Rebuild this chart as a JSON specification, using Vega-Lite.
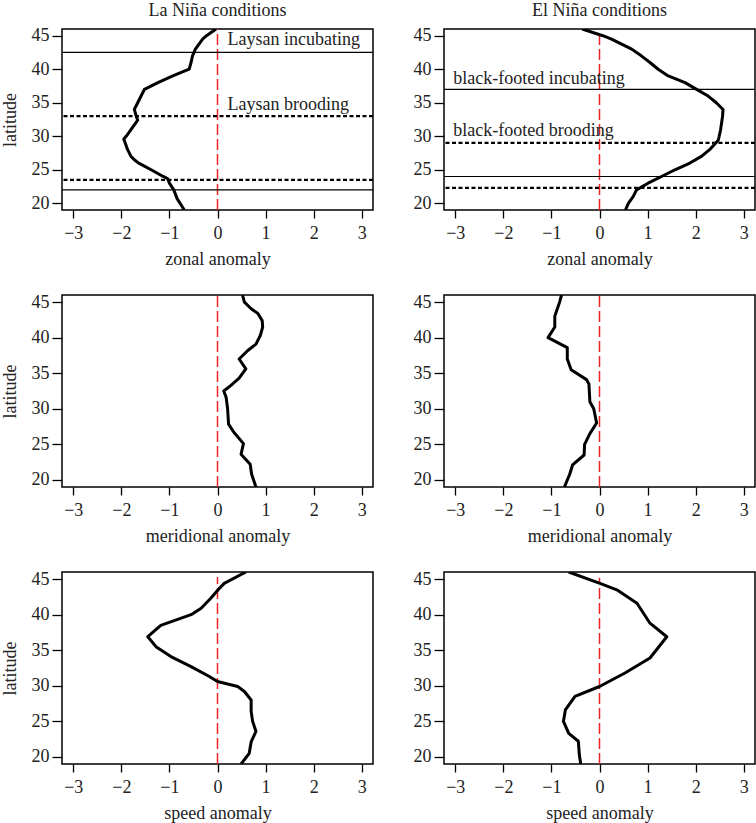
{
  "$schema": "https://vega.github.io/schema/vega-lite/v6.json",
  "padding": {"left": 0, "top": 0, "right": 0, "bottom": 0},
  "background": "white",
  "bounds": "flush",
  "columns": 2,
  "spacing": {"row": 85, "column": 71},
  "datasets": {
    "curves": [
      {"p":"zl","lat":46,"v":-0.03},{"p":"zl","lat":45,"v":-0.23},{"p":"zl","lat":44.5,"v":-0.31},{"p":"zl","lat":43,"v":-0.46},{"p":"zl","lat":42,"v":-0.52},{"p":"zl","lat":41,"v":-0.55},{"p":"zl","lat":40,"v":-0.59},{"p":"zl","lat":39,"v":-0.93},{"p":"zl","lat":38,"v":-1.24},{"p":"zl","lat":37,"v":-1.52},{"p":"zl","lat":36,"v":-1.59},{"p":"zl","lat":35,"v":-1.66},{"p":"zl","lat":34,"v":-1.73},{"p":"zl","lat":33,"v":-1.69},{"p":"zl","lat":32.4,"v":-1.66},{"p":"zl","lat":32,"v":-1.7},{"p":"zl","lat":31,"v":-1.8},{"p":"zl","lat":30,"v":-1.9},{"p":"zl","lat":29.6,"v":-1.95},{"p":"zl","lat":29,"v":-1.92},{"p":"zl","lat":28,"v":-1.87},{"p":"zl","lat":27,"v":-1.8},{"p":"zl","lat":26.5,"v":-1.73},{"p":"zl","lat":26,"v":-1.64},{"p":"zl","lat":25,"v":-1.38},{"p":"zl","lat":24,"v":-1.13},{"p":"zl","lat":23.7,"v":-1.04},{"p":"zl","lat":23,"v":-1.0},{"p":"zl","lat":22,"v":-0.91},{"p":"zl","lat":20.7,"v":-0.84},{"p":"zl","lat":19,"v":-0.69},
      {"p":"ze","lat":46,"v":-0.36},{"p":"ze","lat":45,"v":0.07},{"p":"ze","lat":44.5,"v":0.25},{"p":"ze","lat":43,"v":0.67},{"p":"ze","lat":42,"v":0.87},{"p":"ze","lat":41,"v":1.05},{"p":"ze","lat":40,"v":1.22},{"p":"ze","lat":39,"v":1.43},{"p":"ze","lat":38,"v":1.78},{"p":"ze","lat":37,"v":2.02},{"p":"ze","lat":36,"v":2.26},{"p":"ze","lat":35,"v":2.43},{"p":"ze","lat":34,"v":2.57},{"p":"ze","lat":33,"v":2.56},{"p":"ze","lat":32,"v":2.54},{"p":"ze","lat":31,"v":2.52},{"p":"ze","lat":30,"v":2.49},{"p":"ze","lat":29.4,"v":2.47},{"p":"ze","lat":28,"v":2.29},{"p":"ze","lat":27,"v":2.12},{"p":"ze","lat":26,"v":1.88},{"p":"ze","lat":25,"v":1.57},{"p":"ze","lat":24,"v":1.29},{"p":"ze","lat":23,"v":1.01},{"p":"ze","lat":22,"v":0.77},{"p":"ze","lat":21,"v":0.7},{"p":"ze","lat":20,"v":0.6},{"p":"ze","lat":19,"v":0.54},
      {"p":"ml","lat":46,"v":0.52},{"p":"ml","lat":45,"v":0.56},{"p":"ml","lat":44.06,"v":0.7},{"p":"ml","lat":43.4,"v":0.84},{"p":"ml","lat":42.4,"v":0.93},{"p":"ml","lat":41.5,"v":0.94},{"p":"ml","lat":40.3,"v":0.89},{"p":"ml","lat":39.1,"v":0.8},{"p":"ml","lat":38.2,"v":0.63},{"p":"ml","lat":37,"v":0.45},{"p":"ml","lat":35.6,"v":0.59},{"p":"ml","lat":34.3,"v":0.45},{"p":"ml","lat":33.3,"v":0.28},{"p":"ml","lat":32.5,"v":0.13},{"p":"ml","lat":31.6,"v":0.18},{"p":"ml","lat":30,"v":0.21},{"p":"ml","lat":27.85,"v":0.23},{"p":"ml","lat":26.7,"v":0.34},{"p":"ml","lat":25.1,"v":0.54},{"p":"ml","lat":23.6,"v":0.49},{"p":"ml","lat":22.2,"v":0.68},{"p":"ml","lat":20.8,"v":0.71},{"p":"ml","lat":19,"v":0.8},
      {"p":"me","lat":46,"v":-0.79},{"p":"me","lat":45,"v":-0.83},{"p":"me","lat":43,"v":-0.93},{"p":"me","lat":41.5,"v":-0.93},{"p":"me","lat":40,"v":-1.07},{"p":"me","lat":38.6,"v":-0.67},{"p":"me","lat":37,"v":-0.67},{"p":"me","lat":35.5,"v":-0.59},{"p":"me","lat":34.1,"v":-0.27},{"p":"me","lat":33.5,"v":-0.22},{"p":"me","lat":31,"v":-0.2},{"p":"me","lat":30,"v":-0.12},{"p":"me","lat":28,"v":-0.06},{"p":"me","lat":26.5,"v":-0.2},{"p":"me","lat":25,"v":-0.31},{"p":"me","lat":23.5,"v":-0.32},{"p":"me","lat":22.1,"v":-0.56},{"p":"me","lat":20.8,"v":-0.62},{"p":"me","lat":19,"v":-0.73},
      {"p":"sl","lat":46,"v":0.59},{"p":"sl","lat":44.4,"v":0.14},{"p":"sl","lat":43.7,"v":0.04},{"p":"sl","lat":42.3,"v":-0.14},{"p":"sl","lat":40.9,"v":-0.34},{"p":"sl","lat":40,"v":-0.55},{"p":"sl","lat":38.5,"v":-1.18},{"p":"sl","lat":36.9,"v":-1.45},{"p":"sl","lat":35.5,"v":-1.28},{"p":"sl","lat":34.1,"v":-0.97},{"p":"sl","lat":32.7,"v":-0.55},{"p":"sl","lat":31.3,"v":-0.17},{"p":"sl","lat":30.6,"v":0.0},{"p":"sl","lat":29.9,"v":0.42},{"p":"sl","lat":29.2,"v":0.56},{"p":"sl","lat":28,"v":0.7},{"p":"sl","lat":26.4,"v":0.7},{"p":"sl","lat":25,"v":0.73},{"p":"sl","lat":23.6,"v":0.8},{"p":"sl","lat":22.1,"v":0.7},{"p":"sl","lat":20.5,"v":0.66},{"p":"sl","lat":19,"v":0.49},
      {"p":"se","lat":46,"v":-0.64},{"p":"se","lat":44.4,"v":0.01},{"p":"se","lat":43.5,"v":0.36},{"p":"se","lat":41.6,"v":0.78},{"p":"se","lat":38.8,"v":1.05},{"p":"se","lat":36.9,"v":1.4},{"p":"se","lat":33.9,"v":1.05},{"p":"se","lat":31.8,"v":0.53},{"p":"se","lat":29.9,"v":0.0},{"p":"se","lat":28.5,"v":-0.51},{"p":"se","lat":26.6,"v":-0.71},{"p":"se","lat":25,"v":-0.75},{"p":"se","lat":23.3,"v":-0.64},{"p":"se","lat":22.2,"v":-0.44},{"p":"se","lat":20.3,"v":-0.42},{"p":"se","lat":19,"v":-0.39}
    ],
    "zero": [
      {"p":"zl","v":0,"lat":19,"lat2":46},{"p":"ze","v":0,"lat":19,"lat2":45.8},
      {"p":"ml","v":0,"lat":19,"lat2":46},{"p":"me","v":0,"lat":19,"lat2":46},
      {"p":"sl","v":0,"lat":19,"lat2":45.3},{"p":"se","v":0,"lat":19,"lat2":45.2}
    ],
    "hl": [
      {"p":"zl","lat":42.5,"t":"solid"},{"p":"zl","lat":22,"t":"solid"},{"p":"zl","lat":33,"t":"dashed"},{"p":"zl","lat":23.5,"t":"dashed"},
      {"p":"ze","lat":37,"t":"solid"},{"p":"ze","lat":24,"t":"solid"},{"p":"ze","lat":29,"t":"dashed"},{"p":"ze","lat":22.3,"t":"dashed"}
    ],
    "labels": [
      {"p":"zl","v":0.21,"lat":43.56,"txt":"Laysan incubating"},
      {"p":"zl","v":0.21,"lat":33.9,"txt":"Laysan brooding"},
      {"p":"ze","v":-3.04,"lat":37.86,"txt":"black-footed incubating"},
      {"p":"ze","v":-3.04,"lat":30.05,"txt":"black-footed brooding"}
    ]
  },
  "concat": [
    {
      "width": 311, "height": 181,
      "title": {"text": "La Niña conditions"},
      "layer": [
        {"data": {"name": "zero"}, "transform": [{"filter": "datum.p == 'zl'"}],
         "mark": {"type": "rule", "color": "#ec2424", "strokeWidth": 1.5, "strokeDash": [11, 4]},
         "encoding": {"x": {"field": "v", "type": "quantitative", "title": "zonal anomaly", "axis": {"values": [-3,-2,-1,0,1,2,3]}, "scale": {"domain": [-3.235, 3.235], "nice": false, "zero": false}},
                      "y": {"field": "lat", "type": "quantitative", "title": "latitude", "axis": {"values": [20,25,30,35,40,45]}, "scale": {"domain": [19, 46], "nice": false, "zero": false}},
                      "y2": {"field": "lat2"}}},
        {"data": {"name": "hl"}, "transform": [{"filter": "datum.p == 'zl' && datum.t == 'solid'"}],
         "mark": {"type": "rule", "color": "black", "strokeWidth": 1.2},
         "encoding": {"y": {"field": "lat", "type": "quantitative", "title": "latitude", "axis": {"values": [20,25,30,35,40,45]}, "scale": {"domain": [19, 46], "nice": false, "zero": false}}}},
        {"data": {"name": "hl"}, "transform": [{"filter": "datum.p == 'zl' && datum.t == 'dashed'"}],
         "mark": {"type": "rule", "color": "black", "strokeWidth": 2.2, "strokeDash": [4, 2.5]},
         "encoding": {"y": {"field": "lat", "type": "quantitative", "title": "latitude", "axis": {"values": [20,25,30,35,40,45]}, "scale": {"domain": [19, 46], "nice": false, "zero": false}}}},
        {"data": {"name": "curves"}, "transform": [{"filter": "datum.p == 'zl'"}],
         "mark": {"type": "line", "color": "black", "strokeWidth": 3, "strokeJoin": "round", "clip": true},
         "encoding": {"x": {"field": "v", "type": "quantitative", "title": "zonal anomaly", "axis": {"values": [-3,-2,-1,0,1,2,3]}, "scale": {"domain": [-3.235, 3.235], "nice": false, "zero": false}},
                      "y": {"field": "lat", "type": "quantitative", "title": "latitude", "axis": {"values": [20,25,30,35,40,45]}, "scale": {"domain": [19, 46], "nice": false, "zero": false}},
                      "order": {"field": "lat", "type": "quantitative"}}},
        {"data": {"name": "labels"}, "transform": [{"filter": "datum.p == 'zl'"}],
         "mark": {"type": "text", "align": "left", "baseline": "alphabetic", "fontSize": 18, "font": "Liberation Serif", "color": "#222"},
         "encoding": {"x": {"field": "v", "type": "quantitative", "title": "zonal anomaly", "axis": {"values": [-3,-2,-1,0,1,2,3]}, "scale": {"domain": [-3.235, 3.235], "nice": false, "zero": false}},
                      "y": {"field": "lat", "type": "quantitative", "title": "latitude", "axis": {"values": [20,25,30,35,40,45]}, "scale": {"domain": [19, 46], "nice": false, "zero": false}},
                      "text": {"field": "txt"}}}
      ]
    },
    {
      "width": 311, "height": 181,
      "title": {"text": "El Niña conditions"},
      "layer": [
        {"data": {"name": "zero"}, "transform": [{"filter": "datum.p == 'ze'"}],
         "mark": {"type": "rule", "color": "#ec2424", "strokeWidth": 1.5, "strokeDash": [11, 4]},
         "encoding": {"x": {"field": "v", "type": "quantitative", "title": "zonal anomaly", "axis": {"values": [-3,-2,-1,0,1,2,3]}, "scale": {"domain": [-3.235, 3.235], "nice": false, "zero": false}},
                      "y": {"field": "lat", "type": "quantitative", "title": " ", "axis": {"values": [20,25,30,35,40,45]}, "scale": {"domain": [19, 46], "nice": false, "zero": false}},
                      "y2": {"field": "lat2"}}},
        {"data": {"name": "hl"}, "transform": [{"filter": "datum.p == 'ze' && datum.t == 'solid'"}],
         "mark": {"type": "rule", "color": "black", "strokeWidth": 1.2},
         "encoding": {"y": {"field": "lat", "type": "quantitative", "title": " ", "axis": {"values": [20,25,30,35,40,45]}, "scale": {"domain": [19, 46], "nice": false, "zero": false}}}},
        {"data": {"name": "hl"}, "transform": [{"filter": "datum.p == 'ze' && datum.t == 'dashed'"}],
         "mark": {"type": "rule", "color": "black", "strokeWidth": 2.2, "strokeDash": [4, 2.5]},
         "encoding": {"y": {"field": "lat", "type": "quantitative", "title": " ", "axis": {"values": [20,25,30,35,40,45]}, "scale": {"domain": [19, 46], "nice": false, "zero": false}}}},
        {"data": {"name": "curves"}, "transform": [{"filter": "datum.p == 'ze'"}],
         "mark": {"type": "line", "color": "black", "strokeWidth": 3, "strokeJoin": "round", "clip": true},
         "encoding": {"x": {"field": "v", "type": "quantitative", "title": "zonal anomaly", "axis": {"values": [-3,-2,-1,0,1,2,3]}, "scale": {"domain": [-3.235, 3.235], "nice": false, "zero": false}},
                      "y": {"field": "lat", "type": "quantitative", "title": " ", "axis": {"values": [20,25,30,35,40,45]}, "scale": {"domain": [19, 46], "nice": false, "zero": false}},
                      "order": {"field": "lat", "type": "quantitative"}}},
        {"data": {"name": "labels"}, "transform": [{"filter": "datum.p == 'ze'"}],
         "mark": {"type": "text", "align": "left", "baseline": "alphabetic", "fontSize": 18, "font": "Liberation Serif", "color": "#222"},
         "encoding": {"x": {"field": "v", "type": "quantitative", "title": "zonal anomaly", "axis": {"values": [-3,-2,-1,0,1,2,3]}, "scale": {"domain": [-3.235, 3.235], "nice": false, "zero": false}},
                      "y": {"field": "lat", "type": "quantitative", "title": " ", "axis": {"values": [20,25,30,35,40,45]}, "scale": {"domain": [19, 46], "nice": false, "zero": false}},
                      "text": {"field": "txt"}}}
      ]
    },
    {
      "width": 311, "height": 192,
      "layer": [
        {"data": {"name": "zero"}, "transform": [{"filter": "datum.p == 'ml'"}],
         "mark": {"type": "rule", "color": "#ec2424", "strokeWidth": 1.5, "strokeDash": [11, 4]},
         "encoding": {"x": {"field": "v", "type": "quantitative", "title": "meridional anomaly", "axis": {"values": [-3,-2,-1,0,1,2,3]}, "scale": {"domain": [-3.235, 3.235], "nice": false, "zero": false}},
                      "y": {"field": "lat", "type": "quantitative", "title": "latitude", "axis": {"values": [20,25,30,35,40,45]}, "scale": {"domain": [19, 46], "nice": false, "zero": false}},
                      "y2": {"field": "lat2"}}},
        {"data": {"name": "curves"}, "transform": [{"filter": "datum.p == 'ml'"}],
         "mark": {"type": "line", "color": "black", "strokeWidth": 3, "strokeJoin": "round", "clip": true},
         "encoding": {"x": {"field": "v", "type": "quantitative", "title": "meridional anomaly", "axis": {"values": [-3,-2,-1,0,1,2,3]}, "scale": {"domain": [-3.235, 3.235], "nice": false, "zero": false}},
                      "y": {"field": "lat", "type": "quantitative", "title": "latitude", "axis": {"values": [20,25,30,35,40,45]}, "scale": {"domain": [19, 46], "nice": false, "zero": false}},
                      "order": {"field": "lat", "type": "quantitative"}}}
      ]
    },
    {
      "width": 311, "height": 192,
      "layer": [
        {"data": {"name": "zero"}, "transform": [{"filter": "datum.p == 'me'"}],
         "mark": {"type": "rule", "color": "#ec2424", "strokeWidth": 1.5, "strokeDash": [11, 4]},
         "encoding": {"x": {"field": "v", "type": "quantitative", "title": "meridional anomaly", "axis": {"values": [-3,-2,-1,0,1,2,3]}, "scale": {"domain": [-3.235, 3.235], "nice": false, "zero": false}},
                      "y": {"field": "lat", "type": "quantitative", "title": " ", "axis": {"values": [20,25,30,35,40,45]}, "scale": {"domain": [19, 46], "nice": false, "zero": false}},
                      "y2": {"field": "lat2"}}},
        {"data": {"name": "curves"}, "transform": [{"filter": "datum.p == 'me'"}],
         "mark": {"type": "line", "color": "black", "strokeWidth": 3, "strokeJoin": "round", "clip": true},
         "encoding": {"x": {"field": "v", "type": "quantitative", "title": "meridional anomaly", "axis": {"values": [-3,-2,-1,0,1,2,3]}, "scale": {"domain": [-3.235, 3.235], "nice": false, "zero": false}},
                      "y": {"field": "lat", "type": "quantitative", "title": " ", "axis": {"values": [20,25,30,35,40,45]}, "scale": {"domain": [19, 46], "nice": false, "zero": false}},
                      "order": {"field": "lat", "type": "quantitative"}}}
      ]
    },
    {
      "width": 311, "height": 192,
      "layer": [
        {"data": {"name": "zero"}, "transform": [{"filter": "datum.p == 'sl'"}],
         "mark": {"type": "rule", "color": "#ec2424", "strokeWidth": 1.5, "strokeDash": [11, 4]},
         "encoding": {"x": {"field": "v", "type": "quantitative", "title": "speed anomaly", "axis": {"values": [-3,-2,-1,0,1,2,3]}, "scale": {"domain": [-3.235, 3.235], "nice": false, "zero": false}},
                      "y": {"field": "lat", "type": "quantitative", "title": "latitude", "axis": {"values": [20,25,30,35,40,45]}, "scale": {"domain": [19, 46], "nice": false, "zero": false}},
                      "y2": {"field": "lat2"}}},
        {"data": {"name": "curves"}, "transform": [{"filter": "datum.p == 'sl'"}],
         "mark": {"type": "line", "color": "black", "strokeWidth": 3, "strokeJoin": "round", "clip": true},
         "encoding": {"x": {"field": "v", "type": "quantitative", "title": "speed anomaly", "axis": {"values": [-3,-2,-1,0,1,2,3]}, "scale": {"domain": [-3.235, 3.235], "nice": false, "zero": false}},
                      "y": {"field": "lat", "type": "quantitative", "title": "latitude", "axis": {"values": [20,25,30,35,40,45]}, "scale": {"domain": [19, 46], "nice": false, "zero": false}},
                      "order": {"field": "lat", "type": "quantitative"}}}
      ]
    },
    {
      "width": 311, "height": 192,
      "layer": [
        {"data": {"name": "zero"}, "transform": [{"filter": "datum.p == 'se'"}],
         "mark": {"type": "rule", "color": "#ec2424", "strokeWidth": 1.5, "strokeDash": [11, 4]},
         "encoding": {"x": {"field": "v", "type": "quantitative", "title": "speed anomaly", "axis": {"values": [-3,-2,-1,0,1,2,3]}, "scale": {"domain": [-3.235, 3.235], "nice": false, "zero": false}},
                      "y": {"field": "lat", "type": "quantitative", "title": " ", "axis": {"values": [20,25,30,35,40,45]}, "scale": {"domain": [19, 46], "nice": false, "zero": false}},
                      "y2": {"field": "lat2"}}},
        {"data": {"name": "curves"}, "transform": [{"filter": "datum.p == 'se'"}],
         "mark": {"type": "line", "color": "black", "strokeWidth": 3, "strokeJoin": "round", "clip": true},
         "encoding": {"x": {"field": "v", "type": "quantitative", "title": "speed anomaly", "axis": {"values": [-3,-2,-1,0,1,2,3]}, "scale": {"domain": [-3.235, 3.235], "nice": false, "zero": false}},
                      "y": {"field": "lat", "type": "quantitative", "title": " ", "axis": {"values": [20,25,30,35,40,45]}, "scale": {"domain": [19, 46], "nice": false, "zero": false}},
                      "order": {"field": "lat", "type": "quantitative"}}}
      ]
    }
  ],
  "config": {
    "font": "Liberation Serif",
    "view": {"stroke": "black", "strokeWidth": 1.5},
    "axis": {"grid": false, "domain": false, "labelOverlap": false, "tickColor": "black", "tickWidth": 1.3, "labelColor": "#222", "labelFontSize": 18, "titleFontSize": 18, "titleFontWeight": "normal", "titleColor": "#222", "labelFont": "Liberation Serif", "titleFont": "Liberation Serif"},
    "axisX": {"tickSize": 8, "labelPadding": 6, "titlePadding": 8},
    "axisY": {"tickSize": 10, "labelPadding": 3, "titlePadding": 12},
    "title": {"fontSize": 18, "fontWeight": "normal", "font": "Liberation Serif", "color": "#222", "offset": 7}
  }
}
